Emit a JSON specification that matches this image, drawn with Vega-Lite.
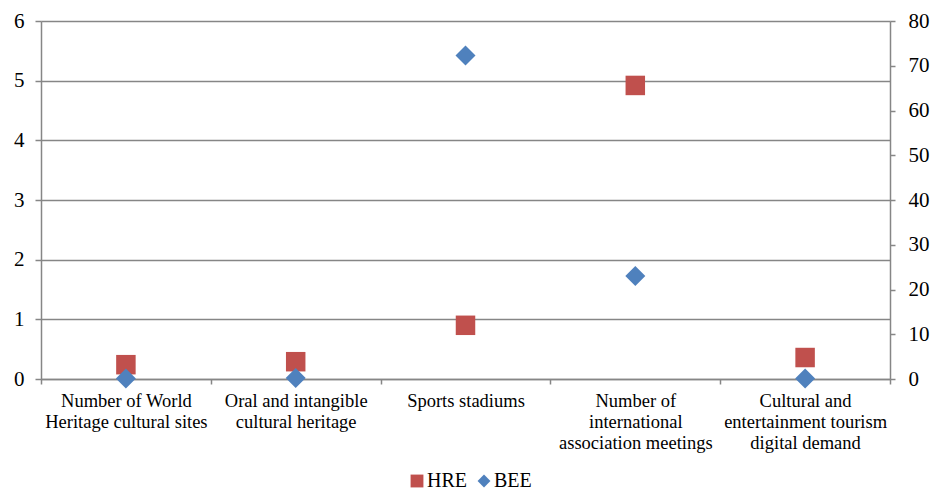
{
  "$schema": "https://vega.github.io/schema/vega-lite/v6.json",
  "width": 849,
  "height": 358,
  "autosize": {"type": "none"},
  "padding": {"left": 41, "top": 21, "right": 41, "bottom": 113},
  "background": "white",
  "config": {
    "font": "Liberation Serif, Times New Roman, serif",
    "axis": {"labelFont": "Liberation Serif, Times New Roman, serif"},
    "legend": {"labelFont": "Liberation Serif, Times New Roman, serif"},
    "view": {"stroke": null}
  },
  "data": {
    "values": [
      {"category": "Number of World|Heritage cultural sites", "series": "HRE", "value": 0.24},
      {"category": "Oral and intangible|cultural heritage", "series": "HRE", "value": 0.29},
      {"category": "Sports stadiums", "series": "HRE", "value": 0.9},
      {"category": "Number of|international|association meetings", "series": "HRE", "value": 4.92},
      {"category": "Cultural and|entertainment tourism|digital demand", "series": "HRE", "value": 0.36},
      {"category": "Number of World|Heritage cultural sites", "series": "BEE", "value": 0.1},
      {"category": "Oral and intangible|cultural heritage", "series": "BEE", "value": 0.2},
      {"category": "Sports stadiums", "series": "BEE", "value": 72.3},
      {"category": "Number of|international|association meetings", "series": "BEE", "value": 23},
      {"category": "Cultural and|entertainment tourism|digital demand", "series": "BEE", "value": 0.1}
    ]
  },
  "encoding": {
    "x": {
      "field": "category",
      "type": "nominal",
      "sort": null,
      "scale": {"paddingInner": 0, "paddingOuter": 0},
      "axis": {
        "title": null,
        "labelAngle": 0,
        "labelExpr": "isString(datum.value) ? split(datum.value, '|') : ''",
        "labelFontSize": 18.5,
        "labelLineHeight": 21,
        "labelColor": "#000000",
        "labelPadding": 7,
        "labelBaseline": "top",
        "labelLimit": 220,
        "tickBand": "extent",
        "tickSize": 5,
        "tickColor": "#868686",
        "tickWidth": 1.5,
        "domainColor": "#868686",
        "domainWidth": 1.5,
        "grid": false
      }
    },
    "color": {
      "field": "series",
      "type": "nominal",
      "scale": {"domain": ["HRE", "BEE"], "range": ["#C0504D", "#4F81BD"]},
      "legend": {
        "title": null,
        "orient": "none",
        "direction": "horizontal",
        "legendX": 366,
        "legendY": 450,
        "labelFontSize": 20,
        "labelColor": "#000000",
        "symbolSize": 165,
        "symbolOpacity": 1,
        "symbolStrokeWidth": 0,
        "labelOffset": 0,
        "columnPadding": 7
      }
    },
    "shape": {
      "field": "series",
      "type": "nominal",
      "scale": {"domain": ["HRE", "BEE"], "range": ["square", "diamond"]},
      "legend": {
        "title": null,
        "orient": "none",
        "direction": "horizontal",
        "legendX": 366,
        "legendY": 450,
        "labelFontSize": 20,
        "labelColor": "#000000",
        "symbolSize": 165,
        "symbolOpacity": 1,
        "symbolStrokeWidth": 0,
        "labelOffset": 0,
        "columnPadding": 7
      }
    }
  },
  "layer": [
    {
      "transform": [{"filter": "datum.series === 'HRE'"}],
      "mark": {"type": "point", "filled": true, "size": 380, "opacity": 1},
      "encoding": {
        "y": {
          "field": "value",
          "type": "quantitative",
          "scale": {"domain": [0, 6], "nice": false},
          "axis": {
            "title": null,
            "orient": "left",
            "values": [0, 1, 2, 3, 4, 5, 6],
            "grid": true,
            "gridColor": "#868686",
            "gridWidth": 1.5,
            "tickSize": 6,
            "tickColor": "#868686",
            "tickWidth": 1.5,
            "domainColor": "#868686",
            "domainWidth": 1.5,
            "labelFontSize": 21,
            "labelColor": "#000000",
            "labelPadding": 11
          }
        }
      }
    },
    {
      "transform": [{"filter": "datum.series === 'BEE'"}],
      "mark": {"type": "point", "filled": true, "size": 400, "opacity": 1},
      "encoding": {
        "y": {
          "field": "value",
          "type": "quantitative",
          "scale": {"domain": [0, 80], "nice": false},
          "axis": {
            "title": null,
            "orient": "right",
            "values": [0, 10, 20, 30, 40, 50, 60, 70, 80],
            "grid": false,
            "tickSize": 5,
            "tickColor": "#868686",
            "tickWidth": 1.5,
            "domainColor": "#868686",
            "domainWidth": 1.5,
            "labelFontSize": 21,
            "labelColor": "#000000",
            "labelPadding": 13
          }
        }
      }
    }
  ],
  "resolve": {"scale": {"y": "independent"}}
}
